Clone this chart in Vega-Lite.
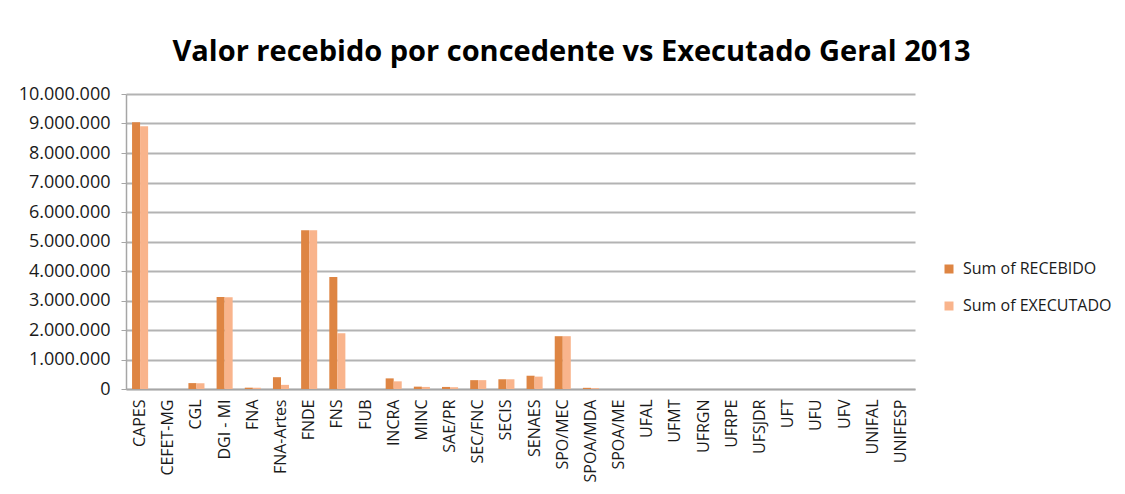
{
  "$schema": "https://vega.github.io/schema/vega-lite/v6.json",
  "autosize": "none",
  "width": 789,
  "height": 295,
  "padding": {"left": 126, "top": 94, "right": 210, "bottom": 105},
  "background": "white",
  "title": {
    "text": "Valor recebido por concedente vs Executado Geral 2013",
    "font": "Open Sans",
    "fontSize": 29,
    "fontWeight": "bold",
    "color": "#000000",
    "anchor": "middle",
    "frame": "group",
    "baseline": "alphabetic",
    "offset": 32,
    "dy": 37,
    "dx": 51
  },
  "data": {
    "values": [
      {"concedente": "CAPES", "serie": "Sum of RECEBIDO", "valor": 9040000},
      {"concedente": "CAPES", "serie": "Sum of EXECUTADO", "valor": 8910000},
      {"concedente": "CEFET-MG", "serie": "Sum of RECEBIDO", "valor": 0},
      {"concedente": "CEFET-MG", "serie": "Sum of EXECUTADO", "valor": 0},
      {"concedente": "CGL", "serie": "Sum of RECEBIDO", "valor": 200000},
      {"concedente": "CGL", "serie": "Sum of EXECUTADO", "valor": 195000},
      {"concedente": "DGI - MI", "serie": "Sum of RECEBIDO", "valor": 3120000},
      {"concedente": "DGI - MI", "serie": "Sum of EXECUTADO", "valor": 3110000},
      {"concedente": "FNA", "serie": "Sum of RECEBIDO", "valor": 45000},
      {"concedente": "FNA", "serie": "Sum of EXECUTADO", "valor": 40000},
      {"concedente": "FNA-Artes", "serie": "Sum of RECEBIDO", "valor": 400000},
      {"concedente": "FNA-Artes", "serie": "Sum of EXECUTADO", "valor": 140000},
      {"concedente": "FNDE", "serie": "Sum of RECEBIDO", "valor": 5380000},
      {"concedente": "FNDE", "serie": "Sum of EXECUTADO", "valor": 5380000},
      {"concedente": "FNS", "serie": "Sum of RECEBIDO", "valor": 3800000},
      {"concedente": "FNS", "serie": "Sum of EXECUTADO", "valor": 1890000},
      {"concedente": "FUB", "serie": "Sum of RECEBIDO", "valor": 0},
      {"concedente": "FUB", "serie": "Sum of EXECUTADO", "valor": 0},
      {"concedente": "INCRA", "serie": "Sum of RECEBIDO", "valor": 360000},
      {"concedente": "INCRA", "serie": "Sum of EXECUTADO", "valor": 260000},
      {"concedente": "MINC", "serie": "Sum of RECEBIDO", "valor": 80000},
      {"concedente": "MINC", "serie": "Sum of EXECUTADO", "valor": 70000},
      {"concedente": "SAE/PR", "serie": "Sum of RECEBIDO", "valor": 70000},
      {"concedente": "SAE/PR", "serie": "Sum of EXECUTADO", "valor": 60000},
      {"concedente": "SEC/FNC", "serie": "Sum of RECEBIDO", "valor": 300000},
      {"concedente": "SEC/FNC", "serie": "Sum of EXECUTADO", "valor": 300000},
      {"concedente": "SECIS", "serie": "Sum of RECEBIDO", "valor": 330000},
      {"concedente": "SECIS", "serie": "Sum of EXECUTADO", "valor": 330000},
      {"concedente": "SENAES", "serie": "Sum of RECEBIDO", "valor": 450000},
      {"concedente": "SENAES", "serie": "Sum of EXECUTADO", "valor": 420000},
      {"concedente": "SPO/MEC", "serie": "Sum of RECEBIDO", "valor": 1790000},
      {"concedente": "SPO/MEC", "serie": "Sum of EXECUTADO", "valor": 1790000},
      {"concedente": "SPOA/MDA", "serie": "Sum of RECEBIDO", "valor": 40000},
      {"concedente": "SPOA/MDA", "serie": "Sum of EXECUTADO", "valor": 30000},
      {"concedente": "SPOA/ME", "serie": "Sum of RECEBIDO", "valor": 0},
      {"concedente": "SPOA/ME", "serie": "Sum of EXECUTADO", "valor": 0},
      {"concedente": "UFAL", "serie": "Sum of RECEBIDO", "valor": 0},
      {"concedente": "UFAL", "serie": "Sum of EXECUTADO", "valor": 0},
      {"concedente": "UFMT", "serie": "Sum of RECEBIDO", "valor": 0},
      {"concedente": "UFMT", "serie": "Sum of EXECUTADO", "valor": 0},
      {"concedente": "UFRGN", "serie": "Sum of RECEBIDO", "valor": 0},
      {"concedente": "UFRGN", "serie": "Sum of EXECUTADO", "valor": 0},
      {"concedente": "UFRPE", "serie": "Sum of RECEBIDO", "valor": 0},
      {"concedente": "UFRPE", "serie": "Sum of EXECUTADO", "valor": 0},
      {"concedente": "UFSJDR", "serie": "Sum of RECEBIDO", "valor": 0},
      {"concedente": "UFSJDR", "serie": "Sum of EXECUTADO", "valor": 0},
      {"concedente": "UFT", "serie": "Sum of RECEBIDO", "valor": 0},
      {"concedente": "UFT", "serie": "Sum of EXECUTADO", "valor": 0},
      {"concedente": "UFU", "serie": "Sum of RECEBIDO", "valor": 0},
      {"concedente": "UFU", "serie": "Sum of EXECUTADO", "valor": 0},
      {"concedente": "UFV", "serie": "Sum of RECEBIDO", "valor": 0},
      {"concedente": "UFV", "serie": "Sum of EXECUTADO", "valor": 0},
      {"concedente": "UNIFAL", "serie": "Sum of RECEBIDO", "valor": 0},
      {"concedente": "UNIFAL", "serie": "Sum of EXECUTADO", "valor": 0},
      {"concedente": "UNIFESP", "serie": "Sum of RECEBIDO", "valor": 0},
      {"concedente": "UNIFESP", "serie": "Sum of EXECUTADO", "valor": 0}
    ]
  },
  "mark": {"type": "bar"},
  "encoding": {
    "x": {
      "field": "concedente",
      "type": "nominal",
      "sort": null,
      "scale": {"paddingInner": 0.43, "paddingOuter": 0.215},
      "axis": {
        "title": null,
        "labelAngle": 270,
        "labelAlign": "right",
        "labelBaseline": "middle",
        "labelFont": "Open Sans",
        "labelFontSize": 16,
        "labelColor": "#1a1a1a",
        "labelPadding": 10,
        "ticks": false,
        "domainColor": "#A6A6A6",
        "domainWidth": 1.5,
        "grid": false
      }
    },
    "xOffset": {
      "field": "serie",
      "type": "nominal",
      "sort": ["Sum of RECEBIDO", "Sum of EXECUTADO"],
      "scale": {"paddingInner": 0, "paddingOuter": 0}
    },
    "y": {
      "field": "valor",
      "type": "quantitative",
      "scale": {"domain": [0, 10000000], "nice": false},
      "axis": {
        "title": null,
        "values": [0, 1000000, 2000000, 3000000, 4000000, 5000000, 6000000, 7000000, 8000000, 9000000, 10000000],
        "format": ",d",
        "labelFont": "Open Sans",
        "labelFontSize": 18,
        "labelColor": "#1a1a1a",
        "labelPadding": 11,
        "tickSize": 5,
        "tickColor": "#A6A6A6",
        "domainColor": "#A6A6A6",
        "domainWidth": 1.5,
        "grid": true,
        "gridColor": "#B3B3B3",
        "gridWidth": 2
      }
    },
    "color": {
      "field": "serie",
      "type": "nominal",
      "sort": ["Sum of RECEBIDO", "Sum of EXECUTADO"],
      "scale": {"domain": ["Sum of RECEBIDO", "Sum of EXECUTADO"], "range": ["#DE8543", "#F9B48C"]},
      "legend": {
        "title": null,
        "orient": "none",
        "legendX": 815,
        "legendY": 167,
        "padding": 0,
        "symbolType": "square",
        "symbolSize": 81,
        "symbolStrokeWidth": 0,
        "labelFont": "Open Sans",
        "labelFontSize": 16,
        "labelColor": "#1a1a1a",
        "labelOffset": 6,
        "rowPadding": 21
      }
    }
  },
  "config": {
    "locale": {
      "number": {"decimal": ",", "thousands": ".", "grouping": [3], "currency": ["R$", ""]}
    },
    "view": {"stroke": null},
    "axis": {"domain": true}
  }
}
